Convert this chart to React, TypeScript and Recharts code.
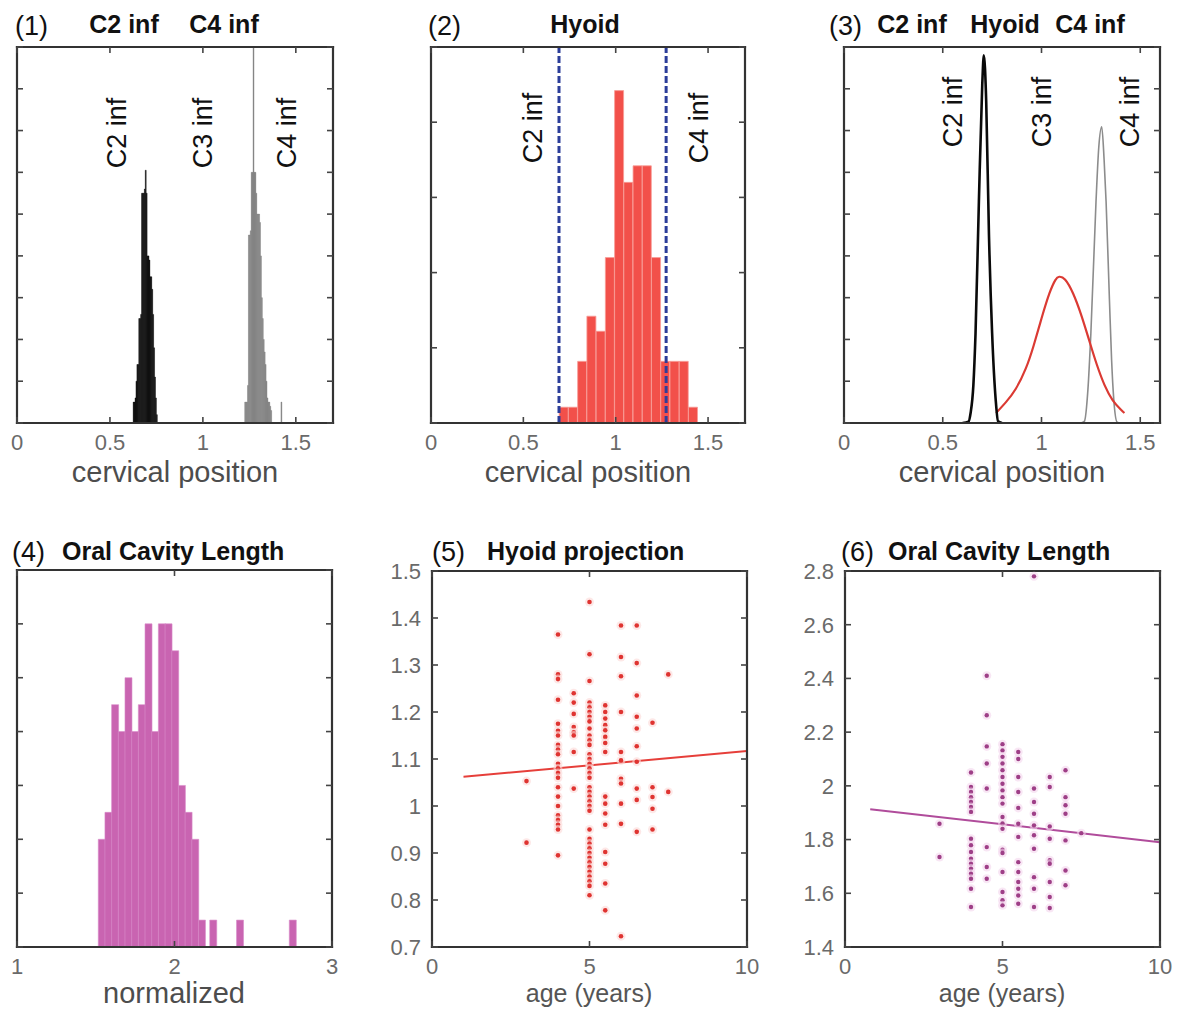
import React from 'react';
import { ComposedChart, Bar, Line, Scatter, XAxis, YAxis, ReferenceLine, Cell } from 'recharts';

const FONT = '"Liberation Sans", Arial, Helvetica, sans-serif';

// ---------- Panel 1 : C2 inf / C4 inf histograms ----------
const c2InfHist = [
  { x: 0.6275, n: 0.5 }, { x: 0.6325, n: 0.5 }, { x: 0.6375, n: 0.6 }, { x: 0.6425, n: 1.0 },
  { x: 0.6475, n: 1.4 }, { x: 0.6525, n: 1.4 }, { x: 0.6575, n: 2.5 }, { x: 0.6625, n: 2.5 },
  { x: 0.6675, n: 2.6 }, { x: 0.6725, n: 5.5 }, { x: 0.6775, n: 5.5 }, { x: 0.6825, n: 5.5 },
  { x: 0.6875, n: 5.6 }, { x: 0.6925, n: 6.05 }, { x: 0.6975, n: 5.5 }, { x: 0.7025, n: 4.0 },
  { x: 0.7075, n: 4.0 }, { x: 0.7125, n: 3.9 }, { x: 0.7175, n: 3.5 }, { x: 0.7225, n: 3.5 },
  { x: 0.7275, n: 3.2 }, { x: 0.7325, n: 2.6 }, { x: 0.7375, n: 1.8 }, { x: 0.7425, n: 1.1 },
  { x: 0.7475, n: 0.6 }, { x: 0.7525, n: 0.2 },
];
const c4InfHist = [
  { x: 1.2275, n: 0.5 }, { x: 1.2325, n: 0.5 }, { x: 1.2375, n: 0.5 }, { x: 1.2425, n: 0.9 },
  { x: 1.2475, n: 4.5 }, { x: 1.2525, n: 4.5 }, { x: 1.2575, n: 4.6 }, { x: 1.2625, n: 6.0 },
  { x: 1.2675, n: 6.0 }, { x: 1.2725, n: 9.0 }, { x: 1.2775, n: 6.0 }, { x: 1.2825, n: 6.0 },
  { x: 1.2875, n: 5.5 }, { x: 1.2925, n: 5.0 }, { x: 1.2975, n: 5.0 }, { x: 1.3025, n: 5.0 },
  { x: 1.3075, n: 4.8 }, { x: 1.3125, n: 4.0 }, { x: 1.3175, n: 3.0 }, { x: 1.3225, n: 2.5 },
  { x: 1.3275, n: 2.0 }, { x: 1.3325, n: 1.7 }, { x: 1.3375, n: 1.4 }, { x: 1.3425, n: 1.0 },
  { x: 1.3475, n: 0.6 }, { x: 1.3525, n: 0.5 }, { x: 1.3575, n: 0.5 }, { x: 1.3625, n: 0.4 },
  { x: 1.3675, n: 0.3 }, { x: 1.4225, n: 0.5 },
];

// ---------- Panel 2 : Hyoid histogram ----------
const hyoidHist = [
  { x: 0.719, n: 0.21 }, { x: 0.769, n: 0.21 }, { x: 0.819, n: 0.82 }, { x: 0.869, n: 1.42 },
  { x: 0.919, n: 1.22 }, { x: 0.969, n: 2.2 }, { x: 1.019, n: 4.42 }, { x: 1.069, n: 3.2 },
  { x: 1.119, n: 3.42 }, { x: 1.169, n: 3.42 }, { x: 1.219, n: 2.2 }, { x: 1.269, n: 0.82 },
  { x: 1.319, n: 0.82 }, { x: 1.369, n: 0.82 }, { x: 1.419, n: 0.21 },
];
const c2InfMean = 0.693;
const c4InfMean = 1.273;

// ---------- Panel 3 : fitted densities ----------
const c2Curve = [
  { x: 0.6, y: 0 }, { x: 0.63, y: 0.03 }, { x: 0.641, y: 0.24 }, { x: 0.655, y: 0.9 },
  { x: 0.666, y: 2.15 }, { x: 0.683, y: 5.3 }, { x: 0.7, y: 8.1 }, { x: 0.708, y: 8.8 },
  { x: 0.72, y: 7.7 }, { x: 0.734, y: 4.5 }, { x: 0.75, y: 2.15 }, { x: 0.768, y: 0.56 },
  { x: 0.78, y: 0.04 }, { x: 0.8, y: 0 },
];
const hyoidCurve = [
  { x: 0.77, y: 0.24 }, { x: 0.82, y: 0.5 }, { x: 0.87, y: 0.82 }, { x: 0.92, y: 1.3 },
  { x: 0.96, y: 1.85 }, { x: 1.0, y: 2.5 }, { x: 1.04, y: 3.1 }, { x: 1.07, y: 3.42 },
  { x: 1.09, y: 3.5 }, { x: 1.12, y: 3.43 }, { x: 1.16, y: 3.1 }, { x: 1.2, y: 2.6 },
  { x: 1.24, y: 2.0 }, { x: 1.28, y: 1.4 }, { x: 1.32, y: 0.9 }, { x: 1.36, y: 0.55 },
  { x: 1.4, y: 0.33 }, { x: 1.42, y: 0.24 },
];
const c4Curve = [
  { x: 1.2, y: 0 }, { x: 1.217, y: 0.04 }, { x: 1.235, y: 0.8 }, { x: 1.25, y: 2.15 },
  { x: 1.276, y: 5.3 }, { x: 1.29, y: 6.6 }, { x: 1.305, y: 7.09 }, { x: 1.317, y: 6.3 },
  { x: 1.327, y: 5.3 }, { x: 1.344, y: 2.95 }, { x: 1.355, y: 1.5 }, { x: 1.366, y: 0.56 },
  { x: 1.383, y: 0.02 }, { x: 1.4, y: 0 },
];

// ---------- Panel 4 : Oral cavity length histogram ----------
const oralHist = [
  { x: 1.5372, n: 2 }, { x: 1.5796, n: 2.5 }, { x: 1.622, n: 4.5 }, { x: 1.6644, n: 4 },
  { x: 1.7068, n: 5 }, { x: 1.7492, n: 4 }, { x: 1.7916, n: 4.5 }, { x: 1.834, n: 6 },
  { x: 1.8764, n: 4 }, { x: 1.9188, n: 6 }, { x: 1.9612, n: 6 }, { x: 2.0036, n: 5.5 },
  { x: 2.046, n: 3 }, { x: 2.0884, n: 2.5 }, { x: 2.1308, n: 2 }, { x: 2.1732, n: 0.5 },
  { x: 2.245, n: 0.5 }, { x: 2.415, n: 0.5 }, { x: 2.75, n: 0.5 },
];

// ---------- Panel 5 : Hyoid projection vs age ----------
const hyoidByAge: [number, number[]][] = [
  [3, [1.053, 0.922]],
  [4, [1.365, 1.28, 1.27, 1.226, 1.175, 1.16, 1.15, 1.13, 1.12, 1.11, 1.09, 1.08, 1.07, 1.06, 1.04, 1.02, 1.0, 0.98, 0.97, 0.96, 0.95, 0.895]],
  [4.5, [1.24, 1.22, 1.196, 1.168, 1.157, 1.15, 1.115, 1.037]],
  [5, [1.434, 1.323, 1.266, 1.22, 1.21, 1.2, 1.19, 1.18, 1.165, 1.15, 1.14, 1.13, 1.11, 1.1, 1.09, 1.08, 1.07, 1.06, 1.04, 1.03, 1.02, 1.01, 1.0, 0.99, 0.95, 0.93, 0.92, 0.91, 0.9, 0.89, 0.88, 0.87, 0.86, 0.85, 0.84, 0.83, 0.81]],
  [5.5, [1.214, 1.2, 1.186, 1.172, 1.161, 1.147, 1.134, 1.115, 1.02, 1.005, 0.984, 0.96, 0.902, 0.877, 0.835, 0.778]],
  [6, [1.384, 1.317, 1.276, 1.2, 1.115, 1.097, 1.058, 1.048, 1.005, 0.962, 0.723]],
  [6.5, [1.384, 1.304, 1.235, 1.19, 1.165, 1.127, 1.094, 1.037, 1.013, 0.945]],
  [7, [1.177, 1.04, 1.019, 0.994, 0.95]],
  [7.5, [1.28, 1.03]],
];
const hyoidFit = [{ x: 1, y: 1.062 }, { x: 10, y: 1.117 }];

// ---------- Panel 6 : Oral cavity length vs age ----------
const oralByAge: [number, number[]][] = [
  [3, [1.859, 1.735]],
  [4, [2.05, 1.996, 1.977, 1.958, 1.94, 1.921, 1.903, 1.803, 1.779, 1.754, 1.729, 1.71, 1.692, 1.673, 1.654, 1.617, 1.549]],
  [4.5, [2.41, 2.263, 2.147, 2.083, 1.99, 1.772, 1.698, 1.654]],
  [5, [2.155, 2.132, 2.108, 2.083, 2.058, 2.033, 2.008, 1.983, 1.958, 1.934, 1.884, 1.86, 1.84, 1.762, 1.75, 1.679, 1.605, 1.574, 1.555]],
  [5.5, [2.126, 2.1, 2.033, 1.977, 1.918, 1.859, 1.81, 1.716, 1.679, 1.642, 1.617, 1.592, 1.561]],
  [6, [2.78, 1.99, 1.94, 1.896, 1.853, 1.816, 1.766, 1.66, 1.617, 1.549]],
  [6.5, [2.033, 1.996, 1.849, 1.803, 1.723, 1.71, 1.642, 1.586, 1.545]],
  [7, [2.058, 1.958, 1.928, 1.896, 1.797, 1.685, 1.63]],
  [7.5, [1.824]],
];
const oralFit = [{ x: 0.8, y: 1.913 }, { x: 10, y: 1.79 }];

// ---------- ticks ----------
const cervTicks = [0, 0.5, 1, 1.5];
const count9Ticks = [0, 1, 2, 3, 4, 5, 6, 7, 8, 9];
const count5Ticks = [0, 1, 2, 3, 4, 5];
const count7Ticks = [0, 1, 2, 3, 4, 5, 6, 7];
const normTicks = [1, 2, 3];
const ageTicks = [0, 5, 10];
const hyoidTicks = [0.7, 0.8, 0.9, 1, 1.1, 1.2, 1.3, 1.4, 1.5];
const oralTicks = [1.4, 1.6, 1.8, 2, 2.2, 2.4, 2.6, 2.8];

// derived tables
const p1Table = [
  ...c2InfHist.map((d) => ({ ...d, g: 'C2' })),
  ...c4InfHist.map((d) => ({ ...d, g: 'C4' })),
];
const flatten = (rows: [number, number[]][]) =>
  rows.flatMap(([age, vals]) => vals.map((v) => ({ x: age, y: v })));
const hyoidPoints = flatten(hyoidByAge);
const oralPoints = flatten(oralByAge);

// ---------- styles ----------
const AXIS = '#333333';
const TICK_COLOR = '#444';
const TICK_LEN = 6;
const LABEL_FILL = '#6a6a6a';
const LABEL_SIZE = 22;
const BLACK = '#0a0a0a';
const GRAY = '#828282';
const RED = '#f2504a';
const MAGENTA = '#c964b1';
const BLUE = '#2b3d99';
const M = 11; // gap between plot edge and tick label

type Side = 'bottom' | 'top' | 'left' | 'right';

// tick renderer: inward tick mark + optional label
const makeTick = (side: Side, m: number, label: boolean) => (p: any) => {
  const { x, y, payload } = p;
  let ln: React.ReactNode = null;
  let tx: React.ReactNode = null;
  const ls = { stroke: TICK_COLOR, strokeWidth: 1.6 };
  if (side === 'bottom') {
    ln = <line x1={x} x2={x} y1={y - m} y2={y - m - TICK_LEN} {...ls} />;
    if (label) tx = <text x={x} y={y} dy="0.72em" textAnchor="middle" fontSize={LABEL_SIZE} fill={LABEL_FILL} fontFamily={FONT}>{payload.value}</text>;
  } else if (side === 'top') {
    ln = <line x1={x} x2={x} y1={y + m} y2={y + m + TICK_LEN} {...ls} />;
  } else if (side === 'left') {
    ln = <line x1={x + m} x2={x + m + TICK_LEN} y1={y} y2={y} {...ls} />;
    if (label) tx = <text x={x} y={y} dy="0.36em" textAnchor="end" fontSize={LABEL_SIZE} fill={LABEL_FILL} fontFamily={FONT}>{payload.value}</text>;
  } else {
    ln = <line x1={x - m} x2={x - m - TICK_LEN} y1={y} y2={y} {...ls} />;
  }
  return <g>{ln}{tx}</g>;
};

type FrameOpts = {
  xDomain: [number, number];
  xTicks: number[];
  yDomain: [number, number];
  yTicks: number[];
  yLabels?: boolean;
};

function frame(o: FrameOpts) {
  const line: any = { stroke: AXIS, strokeWidth: 2.2, strokeLinecap: 'square' };
  return [
    <XAxis key="xb" xAxisId="b" dataKey="x" type="number" domain={o.xDomain} ticks={o.xTicks}
      allowDataOverflow axisLine={line} tickLine={false} tickSize={0} tickMargin={M}
      tick={makeTick('bottom', M, true)} height={40} interval={0} />,
    <XAxis key="xt" xAxisId="t" dataKey="x" type="number" orientation="top" domain={o.xDomain}
      ticks={o.xTicks} allowDataOverflow axisLine={line} tickLine={false} tickSize={0} tickMargin={0}
      tick={makeTick('top', 0, false)} height={1} interval={0} />,
    <YAxis key="yl" yAxisId="l" type="number" domain={o.yDomain} ticks={o.yTicks}
      allowDataOverflow axisLine={line} tickLine={false} tickSize={0}
      tickMargin={o.yLabels ? M : 0} tick={makeTick('left', o.yLabels ? M : 0, !!o.yLabels)}
      width={o.yLabels ? 50 : 1} interval={0} />,
    <YAxis key="yr" yAxisId="r" type="number" orientation="right" domain={o.yDomain}
      ticks={o.yTicks} allowDataOverflow axisLine={line} tickLine={false} tickSize={0} tickMargin={0}
      tick={makeTick('right', 0, false)} width={1} interval={0} />,
  ];
}

const RedDot = (p: any) => (
  <g>
    <circle cx={p.cx} cy={p.cy} r={4.5} fill="#fbd9d7" opacity={0.6} />
    <circle cx={p.cx} cy={p.cy} r={2.3} fill="#df3431" />
  </g>
);
const PurpleDot = (p: any) => (
  <g>
    <circle cx={p.cx} cy={p.cy} r={4.5} fill="#f3d6ec" opacity={0.6} />
    <circle cx={p.cx} cy={p.cy} r={2.2} fill="#9e3f87" />
  </g>
);

const abs = (left: number, top: number): React.CSSProperties => ({ position: 'absolute', left, top });

function Txt(props: {
  x: number; y: number; children: React.ReactNode; size?: number; bold?: boolean;
  anchor?: 'start' | 'middle' | 'end'; fill?: string; rot?: boolean;
}) {
  const { x, y, children, size = 25, bold = false, anchor = 'start', fill = '#111', rot = false } = props;
  return (
    <text
      x={x}
      y={y}
      fontSize={size}
      fontWeight={bold ? 'bold' : 'normal'}
      textAnchor={anchor}
      fill={fill}
      fontFamily={FONT}
      dy={rot ? '0.36em' : undefined}
      transform={rot ? `rotate(-90 ${x} ${y})` : undefined}
    >
      {children}
    </text>
  );
}

export default function App() {
  return (
    <div style={{ position: 'absolute', left: 0, top: 0, width: 1177, height: 1010, background: '#fff', overflow: 'hidden' }}>
      {/* Panel 1 */}
      <div style={abs(0, 0)}>
        <ComposedChart width={380} height={500} data={p1Table} margin={{ top: 46, right: 46, bottom: 37, left: 16 }} barCategoryGap={0} barGap={0}>
          {frame({ xDomain: [0, 1.7], xTicks: cervTicks, yDomain: [0, 9], yTicks: count9Ticks })}
          <Bar xAxisId="b" yAxisId="l" dataKey="n" isAnimationActive={false}>
            {p1Table.map((d, i) => (
              <Cell key={i} fill={d.g === 'C2' ? BLACK : GRAY} stroke={d.g === 'C2' ? BLACK : GRAY} strokeWidth={0.4} />
            ))}
          </Bar>
        </ComposedChart>
      </div>

      {/* Panel 2 */}
      <div style={abs(390, 0)}>
        <ComposedChart width={390} height={500} data={hyoidHist} margin={{ top: 46, right: 34, bottom: 37, left: 40 }} barCategoryGap={0} barGap={0}>
          {frame({ xDomain: [0, 1.7], xTicks: cervTicks, yDomain: [0, 5], yTicks: count5Ticks })}
          <Bar xAxisId="b" yAxisId="l" dataKey="n" fill={RED} stroke="#f89c97" strokeWidth={0.8} isAnimationActive={false} />
          <ReferenceLine xAxisId="b" yAxisId="l" x={c2InfMean} stroke={BLUE} strokeWidth={3} strokeDasharray="7 3" />
          <ReferenceLine xAxisId="b" yAxisId="l" x={c4InfMean} stroke={BLUE} strokeWidth={3} strokeDasharray="7 3" />
        </ComposedChart>
      </div>

      {/* Panel 3 */}
      <div style={abs(790, 0)}>
        <ComposedChart width={387} height={500} margin={{ top: 46, right: 16, bottom: 37, left: 53 }}>
          {frame({ xDomain: [0, 1.6], xTicks: cervTicks, yDomain: [0, 9], yTicks: count9Ticks })}
          <Line xAxisId="b" yAxisId="l" data={c4Curve} dataKey="y" type="monotone" dot={false} stroke="#8c8c8c" strokeWidth={1.6} isAnimationActive={false} />
          <Line xAxisId="b" yAxisId="l" data={hyoidCurve} dataKey="y" type="natural" dot={false} stroke="#db3a33" strokeWidth={2.2} isAnimationActive={false} />
          <Line xAxisId="b" yAxisId="l" data={c2Curve} dataKey="y" type="monotone" dot={false} stroke={BLACK} strokeWidth={2.6} isAnimationActive={false} />
        </ComposedChart>
      </div>

      {/* Panel 4 */}
      <div style={abs(0, 520)}>
        <ComposedChart width={380} height={490} data={oralHist} margin={{ top: 49, right: 47, bottom: 23, left: 16 }} barCategoryGap={0} barGap={0}>
          {frame({ xDomain: [1, 3], xTicks: normTicks, yDomain: [0, 7], yTicks: count7Ticks })}
          <Bar xAxisId="b" yAxisId="l" dataKey="n" fill={MAGENTA} stroke="#d98bc9" strokeWidth={0.6} isAnimationActive={false} />
        </ComposedChart>
      </div>

      {/* Panel 5 */}
      <div style={abs(370, 520)}>
        <ComposedChart width={400} height={490} margin={{ top: 50, right: 22, bottom: 23, left: 12 }}>
          {frame({ xDomain: [0, 10], xTicks: ageTicks, yDomain: [0.7, 1.5], yTicks: hyoidTicks, yLabels: true })}
          <Scatter xAxisId="b" yAxisId="l" data={hyoidPoints} dataKey="y" shape={RedDot} isAnimationActive={false} />
          <Line xAxisId="b" yAxisId="l" data={hyoidFit} dataKey="y" type="linear" dot={false} stroke="#e63f3a" strokeWidth={2} isAnimationActive={false} />
        </ComposedChart>
      </div>

      {/* Panel 6 */}
      <div style={abs(780, 520)}>
        <ComposedChart width={397} height={490} margin={{ top: 50, right: 16, bottom: 23, left: 15 }}>
          {frame({ xDomain: [0, 10], xTicks: ageTicks, yDomain: [1.4, 2.8], yTicks: oralTicks, yLabels: true })}
          <Scatter xAxisId="b" yAxisId="l" data={oralPoints} dataKey="y" shape={PurpleDot} isAnimationActive={false} />
          <Line xAxisId="b" yAxisId="l" data={oralFit} dataKey="y" type="linear" dot={false} stroke="#b04c9b" strokeWidth={2} isAnimationActive={false} />
        </ComposedChart>
      </div>

      {/* Text overlay */}
      <svg width={1177} height={1010} style={{ position: 'absolute', left: 0, top: 0, pointerEvents: 'none' }}>
        {/* titles */}
        <Txt x={15} y={35} size={27}>(1)</Txt>
        <Txt x={124} y={33} bold anchor="middle">C2 inf</Txt>
        <Txt x={224} y={33} bold anchor="middle">C4 inf</Txt>
        <Txt x={428} y={35} size={27}>(2)</Txt>
        <Txt x={585} y={33} bold anchor="middle">Hyoid</Txt>
        <Txt x={829} y={35} size={27}>(3)</Txt>
        <Txt x={912} y={33} bold anchor="middle">C2 inf</Txt>
        <Txt x={1005} y={33} bold anchor="middle">Hyoid</Txt>
        <Txt x={1090} y={33} bold anchor="middle">C4 inf</Txt>
        <Txt x={12} y={561} size={27}>(4)</Txt>
        <Txt x={62} y={560} bold>Oral Cavity Length</Txt>
        <Txt x={432} y={561} size={27}>(5)</Txt>
        <Txt x={487} y={560} bold>Hyoid projection</Txt>
        <Txt x={841} y={561} size={27}>(6)</Txt>
        <Txt x={888} y={560} bold>Oral Cavity Length</Txt>

        {/* rotated in-plot labels */}
        <Txt x={116} y={133} size={27} anchor="middle" rot>C2 inf</Txt>
        <Txt x={202} y={133} size={27} anchor="middle" rot>C3 inf</Txt>
        <Txt x={286} y={133} size={27} anchor="middle" rot>C4 inf</Txt>
        <Txt x={532} y={128} size={27} anchor="middle" rot>C2 inf</Txt>
        <Txt x={698} y={128} size={27} anchor="middle" rot>C4 inf</Txt>
        <Txt x={952} y={112} size={27} anchor="middle" rot>C2 inf</Txt>
        <Txt x={1041} y={112} size={27} anchor="middle" rot>C3 inf</Txt>
        <Txt x={1129} y={112} size={27} anchor="middle" rot>C4 inf</Txt>

        {/* axis titles */}
        <Txt x={175} y={482} size={29} anchor="middle" fill="#4d4d4d">cervical position</Txt>
        <Txt x={588} y={482} size={29} anchor="middle" fill="#4d4d4d">cervical position</Txt>
        <Txt x={1002} y={482} size={29} anchor="middle" fill="#4d4d4d">cervical position</Txt>
        <Txt x={174} y={1003} size={29} anchor="middle" fill="#4d4d4d">normalized</Txt>
        <Txt x={589} y={1002} size={25} anchor="middle" fill="#555">age (years)</Txt>
        <Txt x={1002} y={1002} size={25} anchor="middle" fill="#555">age (years)</Txt>
      </svg>
    </div>
  );
}
